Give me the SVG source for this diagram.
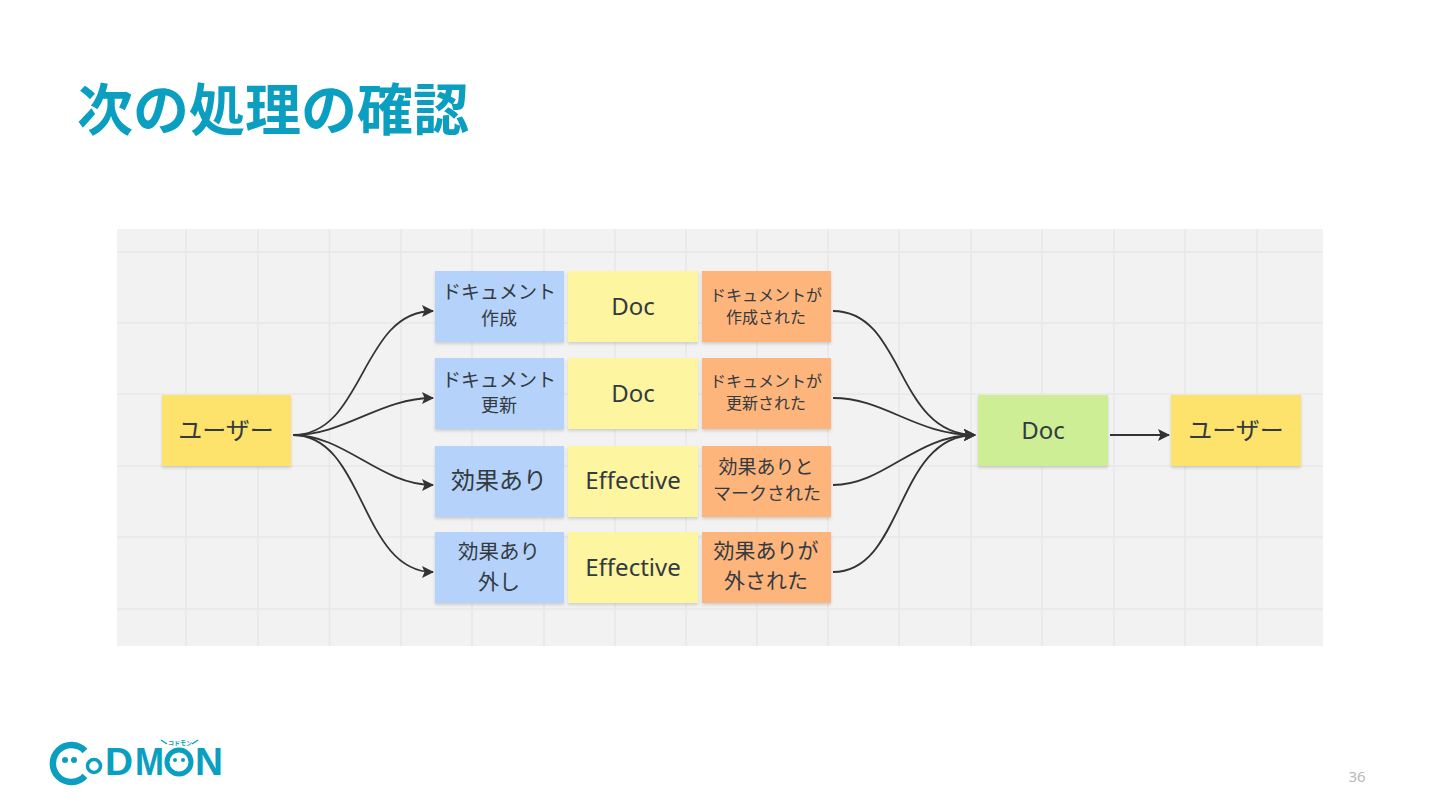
<svg xmlns="http://www.w3.org/2000/svg" width="1440" height="810" viewBox="0 0 1440 810">
<style>
text{font-family:"Noto Sans CJK JP","Noto Sans",sans-serif;text-anchor:middle;fill:#333a40}
.title{font-size:56px;font-weight:700;fill:#0a9fc0;text-anchor:start}
.g{stroke:#e8e8e8;stroke-width:1.500;fill:none}
.c{stroke:#333;stroke-width:1.800;fill:none;marker-end:url(#a)}
.s{filter:url(#sh)}
.b{fill:#b5d2fb}.y{fill:#fdf5a0}.o{fill:#fdb57c}.u{fill:#fde26c}.l{fill:#cdee94}
.t24{font-size:24px;font-family:"Noto Sans","Noto Sans CJK JP",sans-serif}
.t19{font-size:19px}.t18{font-size:18px}.t16{font-size:16px}
.logo{font-family:"Liberation Sans",sans-serif;font-weight:700;font-size:38px;fill:#0a9fc0;text-anchor:start}
.lm{stroke:#0a9fc0;fill:none}
</style>
<defs>
<marker id="a" markerUnits="userSpaceOnUse" markerWidth="14" markerHeight="14" refX="11" refY="6" orient="auto"><path d="M0 0L12 6L0 12L2.500 6Z" fill="#333"/></marker>
<filter id="sh" x="-10%" y="-10%" width="120%" height="125%"><feDropShadow dx="0" dy="2" stdDeviation="1.600" flood-color="#000" flood-opacity=".15"/></filter>
</defs>
<rect width="1440" height="810" fill="#fff"/>
<text class="title" x="77" y="130">次の処理の確認</text>
<g id="board">
<rect x="117" y="229" width="1206" height="417" fill="#f2f2f2"/>
<path class="g" d="M186 229V646M258 229V646M329.500 229V646M401 229V646M472 229V646M544 229V646M615 229V646M686 229V646M757 229V646M828 229V646M899 229V646M971 229V646M1042 229V646M1114 229V646M1185 229V646M1257 229V646M117 252H1323M117 323H1323M117 394H1323M117 466H1323M117 537H1323M117 609H1323"/>
</g>
<g id="connectors">
<path class="c" d="M293 435C365 435 360 311 433 311"/>
<path class="c" d="M293 435C345 435 380 398 433 398"/>
<path class="c" d="M293 435C345 435 380 485 433 485"/>
<path class="c" d="M293 435C365 435 360 572 433 572"/>
<path class="c" d="M833 311C905 311 895 435 975 435"/>
<path class="c" d="M833 398C885 398 915 435 975 435"/>
<path class="c" d="M833 485C885 485 915 435 975 435"/>
<path class="c" d="M833 572C905 572 895 435 975 435"/>
<path class="c" d="M1110 435H1169"/>
</g>
<g id="n-user1"><rect class="u s" x="162" y="395" width="129" height="71"/><text class="t24" x="226" y="439">ユーザー</text></g>
<g id="n-a1"><rect class="b s" x="435" y="271" width="129" height="71"/><text class="t19" x="499" y="299">ドキュメント</text><text class="t18" x="499" y="325">作成</text></g>
<g id="n-a2"><rect class="y s" x="568" y="271" width="130" height="71"/><text class="t24" x="633" y="315">Doc</text></g>
<g id="n-a3"><rect class="o s" x="702" y="271" width="129" height="71"/><text class="t16" x="766" y="301">ドキュメントが</text><text class="t16" x="766" y="323">作成された</text></g>
<g id="n-b1"><rect class="b s" x="435" y="358" width="129" height="71"/><text class="t19" x="499" y="387">ドキュメント</text><text class="t18" x="499" y="412">更新</text></g>
<g id="n-b2"><rect class="y s" x="568" y="358" width="130" height="71"/><text class="t24" x="633" y="402">Doc</text></g>
<g id="n-b3"><rect class="o s" x="702" y="358" width="129" height="71"/><text class="t16" x="766" y="387">ドキュメントが</text><text class="t16" x="766" y="409">更新された</text></g>
<g id="n-c1"><rect class="b s" x="435" y="446" width="129" height="71"/><text x="499" y="489" font-size="24">効果あり</text></g>
<g id="n-c2"><rect class="y s" x="568" y="446" width="130" height="71"/><text class="t24" x="633" y="489">Effective</text></g>
<g id="n-c3"><rect class="o s" x="702" y="446" width="129" height="71"/><text x="766" y="474" font-size="19">効果ありと</text><text x="767" y="500" font-size="18">マークされた</text></g>
<g id="n-d1"><rect class="b s" x="435" y="532" width="129" height="71"/><text x="499" y="559" font-size="20.500">効果あり</text><text x="499" y="589" font-size="21">外し</text></g>
<g id="n-d2"><rect class="y s" x="568" y="532" width="130" height="71"/><text class="t24" x="633" y="576">Effective</text></g>
<g id="n-d3"><rect class="o s" x="702" y="532" width="129" height="71"/><text x="766" y="558" font-size="21">効果ありが</text><text x="766" y="588" font-size="21">外された</text></g>
<g id="n-doc"><rect class="l s" x="978" y="395" width="130" height="71"/><text class="t24" x="1043" y="439">Doc</text></g>
<g id="n-user2"><rect class="u s" x="1171" y="395" width="130" height="71"/><text class="t24" x="1236" y="439">ユーザー</text></g>
<g id="logo">
<path class="lm" stroke-width="6.500" d="M85 751A18.500 18.500 0 1 0 85 776"/>
<circle cx="65" cy="760" r="3" fill="#0a9fc0"/><circle cx="74" cy="760" r="3" fill="#0a9fc0"/>
<circle cx="94" cy="766" r="6.500" class="lm" stroke-width="3.500"/>
<text class="logo" x="105" y="775" textLength="28" lengthAdjust="spacingAndGlyphs">D</text>
<text class="logo" x="135" y="775" textLength="29" lengthAdjust="spacingAndGlyphs">M</text>
<circle cx="179" cy="762" r="12" class="lm" stroke-width="5"/>
<circle cx="175" cy="760" r="2" fill="#0a9fc0"/><circle cx="183" cy="760" r="2" fill="#0a9fc0"/>
<text class="logo" x="195" y="775" textLength="28" lengthAdjust="spacingAndGlyphs">N</text>
<path class="lm" stroke-width="1.500" d="M161 740L167 744M198 740L192 744"/>
<text x="180" y="745" font-size="6" style="fill:#0a9fc0;font-weight:700">コドモン</text>
</g>
<text x="1357" y="782" font-size="15" style="fill:#b8b8b8;font-family:'Noto Sans',sans-serif">36</text>
</svg>
